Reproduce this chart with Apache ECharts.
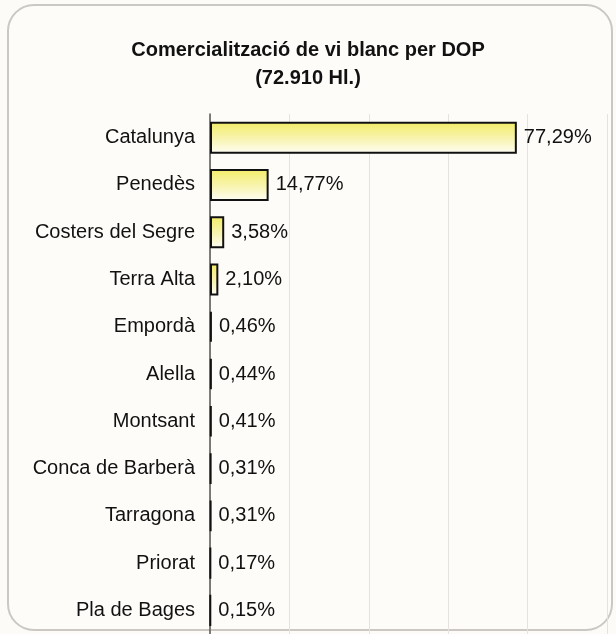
<!DOCTYPE html>
<html style="height: 100%">
  <head>
    <meta charset="utf-8" />
  </head>
  <body style="height: 100%; margin: 0">
    <div id="container" style="width: 616px; height: 634px"></div>
    <script src="https://cdn.jsdelivr.net/npm/echarts@6/dist/echarts.min.js"></script>
    <script type="text/javascript">
      // DOP regions, top to bottom
      var categories = [
        "Catalunya",
        "Penedès",
        "Costers del Segre",
        "Terra Alta",
        "Empordà",
        "Alella",
        "Montsant",
        "Conca de Barberà",
        "Tarragona",
        "Priorat",
        "Pla de Bages",
      ];
      // share of white wine sold (%)
      var shares = [77.29, 14.77, 3.58, 2.1, 0.46, 0.44, 0.41, 0.31, 0.31, 0.17, 0.15];

      var titleLines = ["Comercialització de vi blanc per DOP", "(72.910 Hl.)"];

      var dom = document.getElementById("container");
      var myChart = echarts.init(dom);

      var fontFamily = "'Liberation Sans', Arial, sans-serif";

      var option = {
        backgroundColor: "#fdfbf8",
        animation: false,
        graphic: [
          {
            type: "rect",
            z: -10,
            shape: { x: 8, y: 5, width: 604, height: 625, r: 26 },
            style: { fill: "#fefcf9", stroke: "#cbc8c4", lineWidth: 2 },
          },
        ],
        title: {
          text: titleLines.join("\n"),
          left: "center",
          top: 31,
          textStyle: {
            fontFamily: fontFamily,
            fontSize: 20,
            fontWeight: "bold",
            color: "#111",
            lineHeight: 28,
          },
        },
        grid: {
          left: 210,
          width: 397,
          top: 114,
          height: 523,
        },
        xAxis: {
          type: "value",
          min: 0,
          max: 100,
          interval: 20,
          axisLine: { show: false },
          axisTick: { show: false },
          axisLabel: { show: false },
          splitLine: { lineStyle: { color: "#e6e2dd", width: 1 } },
        },
        yAxis: {
          type: "category",
          inverse: true,
          data: categories,
          axisLine: { lineStyle: { color: "#555", width: 1.5 } },
          axisTick: { length: 4, lineStyle: { color: "#999" } },
          axisLabel: {
            margin: 15,
            fontFamily: fontFamily,
            fontSize: 20,
            color: "#111",
          },
        },
        series: [
          {
            type: "bar",
            data: shares,
            barWidth: 32,
            itemStyle: {
              borderColor: "#111",
              borderWidth: 2,
              color: new echarts.graphic.LinearGradient(0, 0, 0, 1, [
                { offset: 0, color: "#f2ec66" },
                { offset: 0.55, color: "#f8f4b2" },
                { offset: 1, color: "#fffef6" },
              ]),
            },
            label: {
              show: true,
              position: "right",
              distance: 7,
              fontFamily: fontFamily,
              fontSize: 20,
              color: "#111",
              formatter: function (p) {
                return p.value.toFixed(2).replace(".", ",") + "%";
              },
            },
          },
        ],
      };

      myChart.setOption(option);
    </script>
  </body>
</html>
